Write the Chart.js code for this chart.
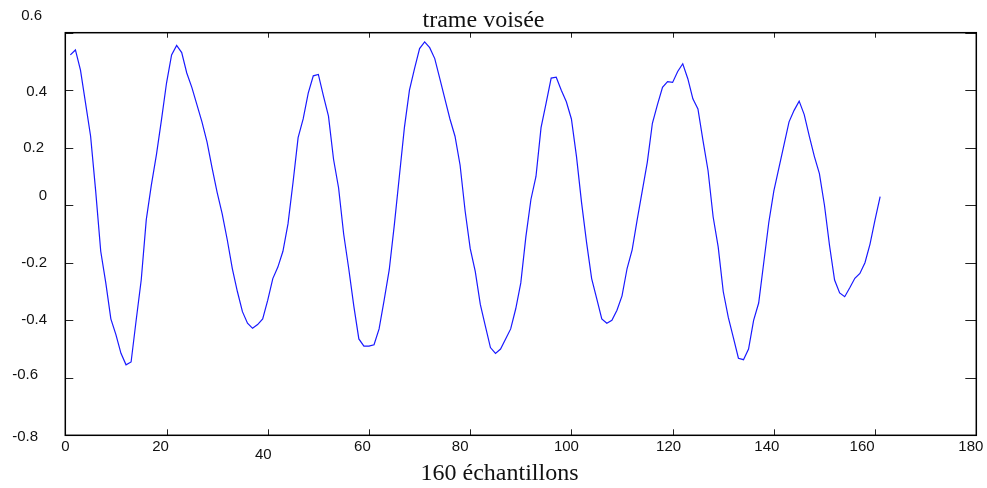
<!DOCTYPE html>
<html>
<head>
<meta charset="utf-8">
<script src="https://cdn.jsdelivr.net/npm/chart.js@4/dist/chart.umd.min.js"></script>
<style>
  html, body { margin: 0; padding: 0; background: #fff; }
  canvas { display: block; }
</style>
</head>
<body>
<canvas id="c" width="987" height="488"></canvas>
<script>
// Voiced speech frame: amplitude of each sample
const amplitudes = [
  0.523, 0.54, 0.47, 0.355, 0.24, 0.05, -0.16, -0.27, -0.395, -0.45,
  -0.515, -0.555, -0.545, -0.40, -0.26, -0.05, 0.07, 0.175, 0.297, 0.425,
  0.523, 0.556, 0.531, 0.46, 0.41, 0.35, 0.29, 0.22, 0.13, 0.045,
  -0.03, -0.12, -0.22, -0.30, -0.37, -0.41, -0.428, -0.415, -0.395, -0.33,
  -0.255, -0.215, -0.16, -0.065, 0.08, 0.235, 0.30, 0.39, 0.45, 0.455,
  0.38, 0.31, 0.16, 0.06, -0.10, -0.22, -0.35, -0.465, -0.49, -0.49,
  -0.485, -0.43, -0.33, -0.225, -0.07, 0.10, 0.27, 0.40, 0.475, 0.545,
  0.568, 0.548, 0.51, 0.44, 0.37, 0.30, 0.24, 0.14, -0.02, -0.15,
  -0.23, -0.345, -0.42, -0.495, -0.515, -0.50, -0.465, -0.43, -0.36, -0.27,
  -0.11, 0.02, 0.10, 0.27, 0.355, 0.442, 0.445, 0.40, 0.36, 0.30,
  0.17, 0.01, -0.13, -0.255, -0.325, -0.395, -0.41, -0.40, -0.365, -0.315,
  -0.22, -0.155, -0.05, 0.05, 0.15, 0.285, 0.35, 0.41, 0.43, 0.427,
  0.465, 0.492, 0.44, 0.37, 0.335, 0.225, 0.12, -0.04, -0.145, -0.30,
  -0.39, -0.46, -0.532, -0.537, -0.50, -0.40, -0.34, -0.20, -0.06, 0.05,
  0.13, 0.21, 0.29, 0.33, 0.362, 0.315, 0.24, 0.17, 0.11, 0.0,
  -0.14, -0.26, -0.305, -0.318, -0.287, -0.254, -0.237, -0.20, -0.135, -0.05,
  0.03
];
// Sample numbers (1-based)
const sampleNumbers = amplitudes.map((_, k) => k + 1);

const xTickValues = [0, 20, 40, 60, 80, 100, 120, 140, 160, 180];
const xTickLabels = ['0', '20', '40', '60', '80', '100', '120', '140', '160', '180'];
const yTickValues = [0.6, 0.4, 0.2, 0, -0.2, -0.4, -0.6, -0.8];
const yTickLabels = ['0.6', '0.4', '0.2', '0', '-0.2', '-0.4', '-0.6', '-0.8'];

const titleText = 'trame voisée';
const xAxisText = '160 échantillons';

// Label placement tweaks (pixels) for the hand-set tick labels
const xLabelShift = [[0, 0], [-6, 0], [-4.5, 8], [-6.5, 0], [-10, 0], [-5, 0], [-4, 0], [-7, 0], [-13, 0], [-5.5, 0]];
const yLabelRight = [42, 47, 44, 47, 47, 47, 38, 38];
const yLabelShift = [-16.5, 1.5, 0, -9, 0, 0, -2.5, 1.5];

const framePlugin = {
  id: 'frame',
  afterDraw(chart) {
    const ctx = chart.ctx;
    const a = chart.chartArea;
    const xs = chart.scales.x, ys = chart.scales.y;
    ctx.save();
    // inward tick marks
    ctx.strokeStyle = '#222';
    ctx.lineWidth = 1;
    ctx.beginPath();
    xTickValues.forEach(v => {
      const px = Math.round(xs.getPixelForValue(v)) + 0.5;
      ctx.moveTo(px, a.bottom); ctx.lineTo(px, a.bottom - 6);
      ctx.moveTo(px, a.top); ctx.lineTo(px, a.top + 5);
    });
    yTickValues.forEach(v => {
      const py = Math.round(ys.getPixelForValue(v)) + 0.5;
      ctx.moveTo(a.left, py); ctx.lineTo(a.left + 8, py);
      ctx.moveTo(a.right, py); ctx.lineTo(a.right - 11, py);
    });
    ctx.stroke();
    // box
    ctx.strokeStyle = '#000';
    ctx.lineWidth = 1.5;
    ctx.strokeRect(a.left, a.top, a.right - a.left, a.bottom - a.top);

    // tick labels
    ctx.fillStyle = '#111';
    ctx.font = '15px "Liberation Sans", Arial, sans-serif';
    ctx.textBaseline = 'middle';
    ctx.textAlign = 'center';
    xTickValues.forEach((v, k) => {
      const px = xs.getPixelForValue(v) + xLabelShift[k][0];
      ctx.fillText(xTickLabels[k], px, a.bottom + 11.5 + xLabelShift[k][1]);
    });
    ctx.textAlign = 'right';
    yTickValues.forEach((v, k) => {
      const py = ys.getPixelForValue(v) + yLabelShift[k];
      ctx.fillText(yTickLabels[k], yLabelRight[k], py);
    });

    // titles
    ctx.font = '24px "Liberation Serif", "Times New Roman", serif';
    ctx.textAlign = 'center';
    ctx.textBaseline = 'alphabetic';
    ctx.fillText(titleText, 483.5, 27);
    ctx.fillText(xAxisText, 499.5, 480);
    ctx.restore();
  }
};

new Chart(document.getElementById('c'), {
  type: 'line',
  data: {
    datasets: [{
      data: amplitudes.map((v, k) => ({ x: sampleNumbers[k], y: v })),
      borderColor: 'rgb(25,25,255)',
      borderWidth: 1.2,
      pointRadius: 0,
      tension: 0,
      fill: false
    }]
  },
  options: {
    responsive: false,
    animation: false,
    layout: { padding: { left: 65.3, right: 10.7, top: 32.7, bottom: 52.7 } },
    scales: {
      x: { type: 'linear', min: 0, max: 180, display: false },
      y: { type: 'linear', min: -0.8, max: 0.6, display: false }
    },
    plugins: { legend: { display: false }, tooltip: { enabled: false }, title: { display: false } }
  },
  plugins: [framePlugin]
});
</script>
</body>
</html>
